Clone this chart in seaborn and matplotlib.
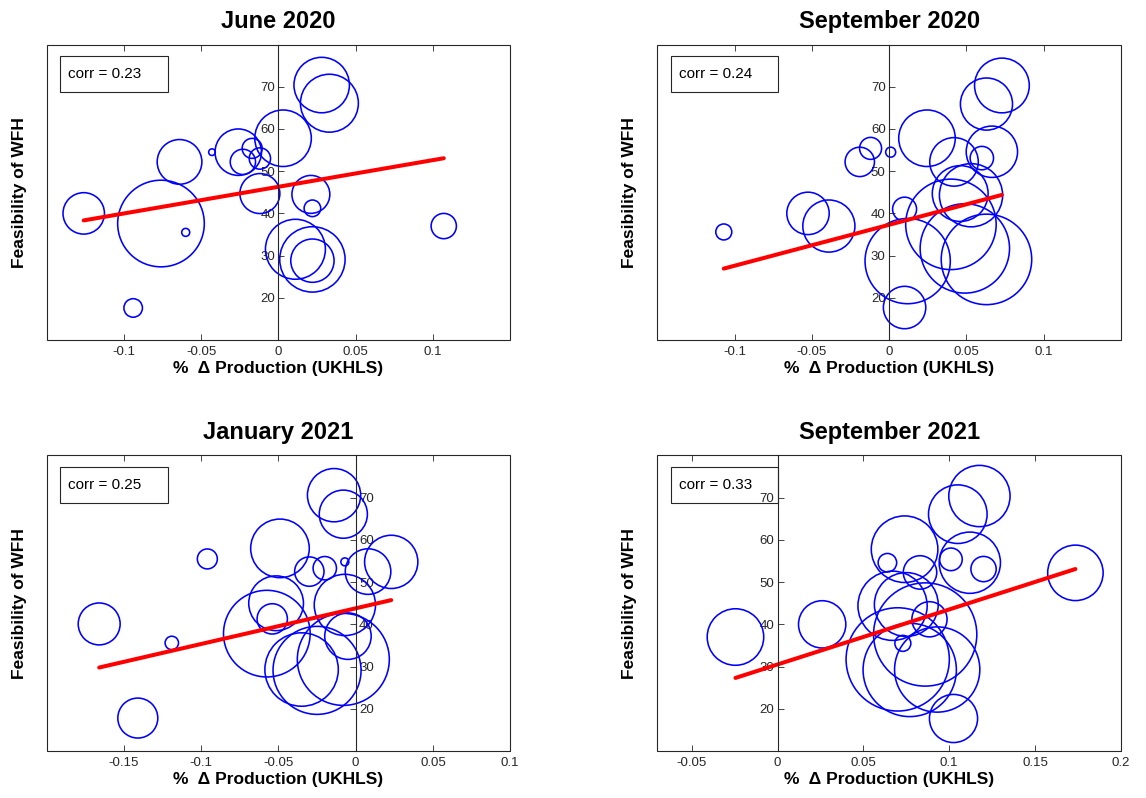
import numpy as np
import matplotlib
matplotlib.use("Agg")
from matplotlib import pyplot as plt
from matplotlib.patches import Rectangle
import pandas as pd
import seaborn as sns

titles = ["June 2020", "September 2020", "January 2021", "September 2021"]
corrs = [0.23, 0.24, 0.25, 0.33]

# % change in production by industry, feasibility of WFH, bubble weight
jun20_x = [-0.126, -0.076, -0.064, -0.060, -0.043, -0.026, -0.023, -0.017, -0.012, -0.012,
           0.003, 0.028, 0.033, 0.021, 0.022, 0.107, 0.011, 0.022, 0.022, -0.094]
jun20_y = [40.0, 37.6, 52.2, 35.5, 54.5, 54.5, 52.2, 55.4, 53.0, 44.7,
           57.8, 70.4, 66.1, 44.5, 41.2, 37.0, 31.5, 29.1, 28.8, 17.6]
jun20_w = [43, 188, 50, 1.6, 1.1, 54, 16, 10, 11.4, 40,
           80, 77, 84, 36, 6.9, 16, 90, 107, 47, 8.6]

sep20_x = [-0.107, -0.0525, -0.039, -0.019, -0.012, 0.001, 0.0245, 0.010, 0.010, 0.012,
           0.042, 0.060, 0.0665, 0.063, 0.073, 0.046, 0.053, 0.040, 0.049, 0.063]
sep20_y = [35.6, 40.0, 37.0, 52.2, 55.4, 54.5, 57.8, 41.0, 17.7, 28.7,
           52.2, 53.1, 54.6, 65.9, 70.3, 44.7, 44.3, 37.4, 31.7, 29.1]
sep20_w = [6.4, 45, 68, 21.6, 12.1, 2.5, 80, 14.4, 45, 182,
           59, 13.7, 66, 68, 75, 78, 100, 205, 200, 205]

jan21_x = [-0.166, -0.141, -0.119, -0.096, -0.049, -0.0515, -0.054, -0.0575, -0.030, -0.020,
           -0.007, -0.014, -0.008, 0.008, 0.023, -0.007, -0.005, -0.035, -0.025, -0.008]
jan21_y = [40.1, 17.8, 35.6, 55.5, 58.0, 45.0, 41.3, 37.8, 52.5, 53.3,
           54.8, 70.6, 66.1, 52.5, 54.8, 44.6, 37.2, 29.3, 29.1, 31.7]
jan21_w = [44, 40, 4.5, 10, 86, 75, 23, 188, 21.6, 13.7,
           1.6, 71, 58, 52, 71, 94, 54, 135, 194, 212]

sep21_x = [-0.0245, 0.026, 0.064, 0.073, 0.074, 0.083, 0.067, 0.075, 0.0885, 0.086,
           0.070, 0.077, 0.093, 0.1025, 0.101, 0.112, 0.120, 0.105, 0.1176, 0.1735]
sep21_y = [37.0, 40.0, 54.6, 35.5, 57.8, 52.3, 44.4, 44.7, 41.2, 37.6,
           31.7, 29.2, 29.3, 17.7, 55.4, 54.6, 53.1, 66.1, 70.4, 52.2]
sep21_w = [80, 56, 8.6, 6.4, 111, 28, 120, 102, 31, 267,
           267, 218, 182, 58, 12.8, 94, 16, 86, 94, 77]

# weighted fit lines
fit_intercepts = [46.3, 37.3, 43.8, 30.5]
fit_slopes = [63.2, 97.0, 84.5, 130.3]

x_limits = [(-0.15, 0.15), (-0.15, 0.15), (-0.2, 0.1), (-0.07, 0.2)]
x_ticks = [[-0.1, -0.05, 0, 0.05, 0.1],
           [-0.1, -0.05, 0, 0.05, 0.1],
           [-0.15, -0.1, -0.05, 0, 0.05, 0.1],
           [-0.05, 0, 0.05, 0.1, 0.15, 0.2]]
y_ticks = [20, 30, 40, 50, 60, 70]

xs = [jun20_x, sep20_x, jan21_x, sep21_x]
ys = [jun20_y, sep20_y, jan21_y, sep21_y]
ws = [jun20_w, sep20_w, jan21_w, sep21_w]

sns.set_style("white")
plt.rcParams["font.family"] = ["Liberation Sans", "DejaVu Sans"]
plt.rcParams["axes.unicode_minus"] = False

W_MAX = 300
DARK = "0.15"

fig = plt.figure(figsize=(11.46, 7.98), dpi=100)
rects = [(0.0407, 0.5739), (0.5736, 0.5739), (0.0407, 0.0589), (0.5736, 0.0589)]

for i, (l, b) in enumerate(rects):
    ax = fig.add_axes([l, b, 0.4045, 0.3703])
    df = pd.DataFrame({"x": xs[i], "y": ys[i], "w": ws[i]})
    sns.scatterplot(data=df, x="x", y="y", size="w", sizes=(0, 20.7 * W_MAX),
                    size_norm=(0, W_MAX), facecolor="none", edgecolor="blue",
                    linewidth=1.15, legend=False, ax=ax)

    fx = np.array([min(xs[i]), max(xs[i])])
    sns.lineplot(x=fx, y=fit_intercepts[i] + fit_slopes[i] * fx, color="red",
                 linewidth=2.9, ax=ax)

    ax.set_xlim(*x_limits[i])
    ax.set_ylim(10, 80)
    ax.set_xticks(x_ticks[i])
    ax.set_xticklabels([f"{t:g}" for t in x_ticks[i]])
    ax.set_yticks(y_ticks)

    # y axis through the origin, box around the plot
    for s in ax.spines.values():
        s.set_visible(False)
    side = "right" if i == 2 else "left"
    sp = ax.spines[side]
    sp.set_visible(True)
    sp.set_position(("data", 0))
    sp.set_color(DARK)
    sp.set_linewidth(0.8)
    if side == "right":
        ax.yaxis.tick_right()
    else:
        ax.yaxis.tick_left()
    ax.add_patch(Rectangle((0, 0), 1, 1, transform=ax.transAxes, fill=False,
                           edgecolor=DARK, linewidth=0.8, clip_on=False, zorder=5))

    ax.xaxis.set_ticks_position("both")
    ax.tick_params(axis="x", direction="in", length=4, width=0.6, color=DARK,
                   labelsize=9.5, labelcolor="#262626", pad=4,
                   labelbottom=True, labeltop=False)
    ax.tick_params(axis="y", direction="in", length=4, width=0.6, color=DARK,
                   labelsize=9.5, labelcolor="#262626", pad=2.5)

    ax.set_title(titles[i], fontsize=17, fontweight="bold", pad=12, color="black")
    ax.set_xlabel("%  \u0394 Production (UKHLS)", fontsize=12.5, fontweight="bold",
                  labelpad=2.5, color="black")
    ax.set_ylabel("Feasibility of WFH", fontsize=12.5, fontweight="bold", color="black")
    ax.yaxis.set_label_position("left")
    ax.yaxis.set_label_coords(-0.043, 0.5)

    # correlation box
    ax.add_patch(Rectangle((0.0287, 0.838), 0.2325, 0.124, transform=ax.transAxes,
                           fill=False, edgecolor=DARK, linewidth=0.8, zorder=6))
    ax.text(0.0466, 0.9, f"corr = {corrs[i]:.2f}", transform=ax.transAxes,
            va="center", ha="left", fontsize=11, color="black", zorder=6)

fig.savefig("out.png", dpi=100)
